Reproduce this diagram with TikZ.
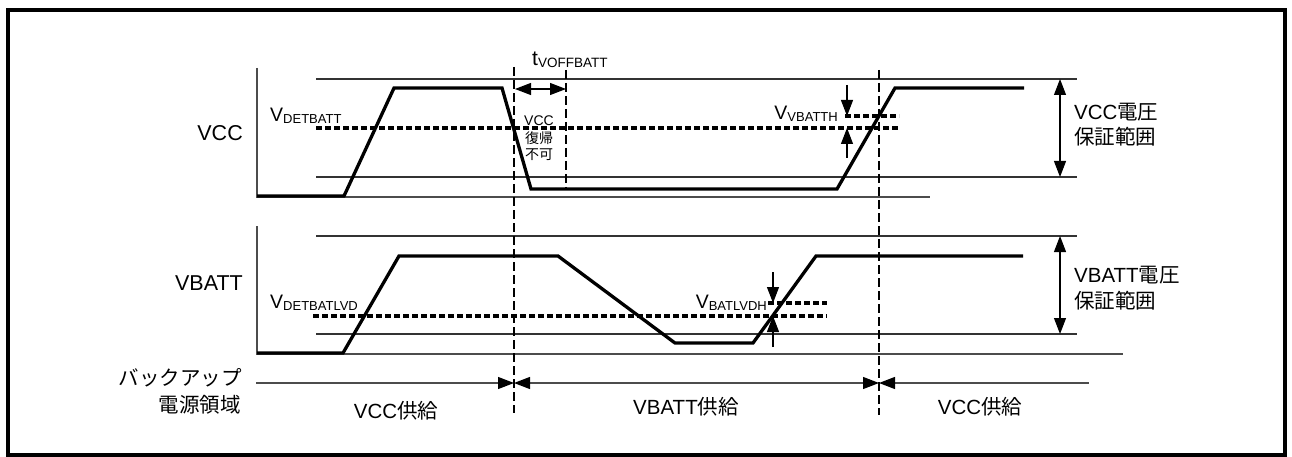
\documentclass[tikz,border=0pt]{standalone}
\usepackage{fontspec}
\setmainfont{Liberation Sans}
\newfontfamily\jp{Noto Sans CJK JP}
\usetikzlibrary{arrows.meta}
\newcommand{\fs}[1]{\fontsize{#1}{#1}\selectfont}
\newcommand{\vsub}[3]{{\fs{19.5}#1\raisebox{-2pt}{\fs{13}#2}}}
\begin{document}
\begin{tikzpicture}[x=1pt,y=-1pt,
  wave/.style={line width=3.3pt, line join=miter},
  guide/.style={line width=1.4pt, black!80},
  base/.style={line width=1.2pt, black!70},
  thr/.style={line width=3.2pt, dash pattern=on 6pt off 3pt},
  vdash/.style={line width=1.7pt, dash pattern=on 9pt off 4pt},
  tip/.tip={Triangle[length=16pt,width=12pt,black]},
  dimarrow/.style={line width=1.1pt, -tip},
  txt/.style={inner sep=0pt, font=\fs{20.5}},
  jtxt/.style={inner sep=0pt, font=\jp\fs{20.5}},
]
\useasboundingbox (0,0) rectangle (1292,457);
\draw[line width=3.2pt] (8,10) rectangle (1285,455);

% ---- VCC panel
\draw[base] (257,68) -- (257,197) -- (930,197);
\draw[guide] (316,79) -- (1077,79);
\draw[guide] (316,177) -- (1077,177);
\draw[thr] (316,128) -- (899,128);
\draw[thr] (845,116) -- (899,116);
\draw[wave] (257,196) -- (344,196) -- (394,88) -- (502,88) -- (531,189) -- (837,189) -- (895,88) -- (1024,88);

% ---- VBATT panel
\draw[base] (257,226) -- (257,354) -- (1123,354);
\draw[guide] (316,236) -- (1077,236);
\draw[guide] (316,334) -- (1077,334);
\draw[thr] (313,316) -- (827,316);
\draw[thr] (768,303) -- (827,303);
\draw[wave] (257,353) -- (343,353) -- (399,256) -- (558,256) -- (675,343) -- (753,343) -- (816,256) -- (1023,256);

% ---- vertical dashed markers
\coordinate (v1t) at (514,67);  \coordinate (v1b) at (514,413);
\coordinate (v2t) at (566,70);  \coordinate (v2b) at (566,189);
\coordinate (v3t) at (879,70);  \coordinate (v3b) at (879,415);
\draw[vdash] (v1t) -- (v1b);
\draw[vdash] (v2t) -- (v2b);
\draw[vdash] (v3t) -- (v3b);

% ---- tVOFFBATT
\coordinate (ta) at (515,89); \coordinate (tb) at (566,89);
\draw[line width=1.1pt, tip-tip] (ta) -- (tb);
\node[anchor=base west, inner sep=0pt] (tlab) at (532,66) {{\fs{21}t\raisebox{-2pt}{\fs{13.5}VOFFBATT}}};

% ---- small VCC text
\node[inner sep=0pt, font=\fs{14}] (n1) at (539,121) {VCC};
\node[inner sep=0pt, font=\jp\fs{14}] (n2) at (539,138) {復帰};
\node[inner sep=0pt, font=\jp\fs{14}] (n3) at (539,155) {不可};

% ---- VVBATTH arrows
\coordinate (a1) at (847,85);  \coordinate (a1t) at (847,116);
\coordinate (a2) at (847,158); \coordinate (a2t) at (847,128);
\draw[dimarrow] (a1) -- (a1t);
\draw[dimarrow] (a2) -- (a2t);
\node[anchor=base east, inner sep=0pt] (lvbh) at (838,120) {\vsub{V}{VBATTH}{}};

% ---- VBATLVDH arrows
\coordinate (b1) at (773,272); \coordinate (b1t) at (773,303);
\coordinate (b2) at (773,347); \coordinate (b2t) at (773,316);
\draw[dimarrow] (b1) -- (b1t);
\draw[dimarrow] (b2) -- (b2t);
\node[anchor=base east, inner sep=0pt] (lbl) at (767,308) {\vsub{V}{BATLVDH}{}};

% ---- threshold labels
\node[anchor=base west, inner sep=0pt] (ldb) at (270,122) {\vsub{V}{DETBATT}{}};
\node[anchor=base west, inner sep=0pt] (ldl) at (270,308) {\vsub{V}{DETBATLVD}{}};

% ---- guarantee range arrows
\coordinate (r1t) at (1060,79);  \coordinate (r1b) at (1060,177);
\coordinate (r2t) at (1060,236); \coordinate (r2b) at (1060,334);
\draw[line width=1.1pt, tip-tip] (r1t) -- (r1b);
\draw[line width=1.1pt, tip-tip] (r2t) -- (r2b);
\node[txt, anchor=west] (rv1) at (1074,112) {VCC{\jp 電圧}};
\node[jtxt, anchor=west] (rv2) at (1074,137) {保証範囲};
\node[txt, anchor=west] (rb1) at (1074,275) {VBATT{\jp 電圧}};
\node[jtxt, anchor=west] (rb2) at (1074,301) {保証範囲};

% ---- signal names
\node[txt, anchor=east, font=\fs{21.5}] (lvcc) at (243,133) {VCC};
\node[txt, anchor=east, font=\fs{21.5}] (lvbatt) at (243,283) {VBATT};

% ---- backup domain
\node[jtxt, anchor=east] (bk1) at (242,378) {バックアップ};
\node[jtxt, anchor=east] (bk2) at (241,405) {電源領域};
\coordinate (p0) at (256,383); \coordinate (p1) at (514,383);
\coordinate (p2) at (879,383); \coordinate (p3) at (1089,383);
\draw[base, -tip] (p0) -- (p1);
\draw[base, tip-tip] (p1) -- (p2);
\draw[base, tip-] (p2) -- (p3);
\node[txt] (s1) at (396,411) {VCC{\jp 供給}};
\node[txt] (s2) at (686,407) {VBATT{\jp 供給}};
\node[txt] (s3) at (980,407) {VCC{\jp 供給}};
\end{tikzpicture}
\end{document}
